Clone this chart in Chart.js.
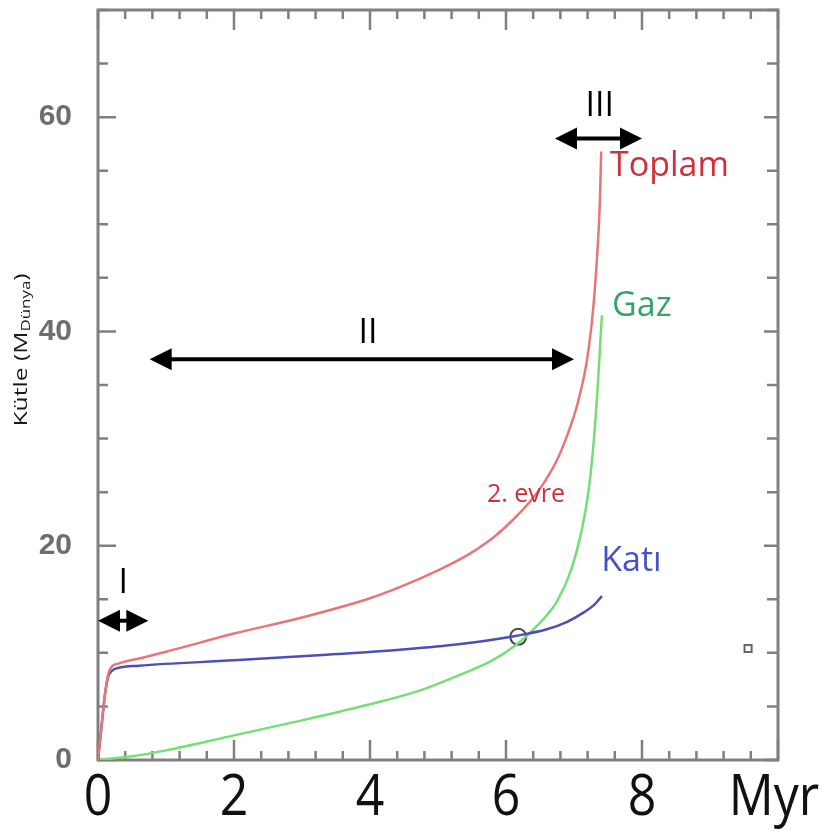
<!DOCTYPE html>
<html>
<head>
<meta charset="utf-8">
<script src="https://cdn.jsdelivr.net/npm/chart.js@4.4.1/dist/chart.umd.min.js"></script>
<style>
  html, body { margin: 0; padding: 0; background: #fff; }
  #wrap { width: 823px; height: 831px; }
</style>
</head>
<body>
<div id="wrap"><canvas id="massChart"></canvas></div>
<script>
// Total mass (Toplam)
const toplamTime = [0, 0.05, 0.1, 0.15, 0.2, 0.3, 0.62, 1.0, 2.0, 3.0, 4.0, 4.5, 5.0, 5.4, 5.8, 6.1, 6.35, 6.55, 6.75, 6.9, 7.05, 7.19, 7.28, 7.34, 7.38, 7.4];
const toplamMass = [0, 3, 6, 8, 8.7, 9.0, 9.5, 10.1, 11.8, 13.3, 15.1, 16.3, 17.7, 19.0, 20.7, 22.4, 24.1, 25.8, 28.0, 30.3, 33.2, 37.3, 42, 47, 52, 56.8];

// Gas (Gaz)
const gazTime = [0, 0.5, 1.0, 2.0, 3.0, 4.0, 4.74, 5.3, 5.8, 6.16, 6.5, 6.75, 6.95, 7.09, 7.2, 7.28, 7.35, 7.41];
const gazMass = [0, 0.35, 0.9, 2.3, 3.7, 5.2, 6.5, 7.9, 9.3, 10.8, 12.8, 14.8, 17.6, 20.8, 24.5, 29, 35, 41.5];

// Solid (Katı)
const katiTime = [0, 0.05, 0.1, 0.15, 0.2, 0.3, 0.6, 2.0, 3.3, 4.44, 5.3, 6.16, 6.6, 6.9, 7.15, 7.3, 7.41];
const katiMass = [0, 3, 6, 7.8, 8.3, 8.6, 8.8, 9.3, 9.8, 10.3, 10.8, 11.6, 12.2, 12.9, 13.8, 14.5, 15.3];

// crossover marker and the small square
const crossPoint = [6.18, 11.5];
const squarePoint = [9.56, 10.4];

const xLabelValues = [0, 2, 4, 6, 8, 10];
const xLabelTexts = ['0', '2', '4', '6', '8', 'Myr'];
const yLabelValues = [0, 20, 40, 60];

// phase arrows: label, start, end, height
const phaseArrows = [
    { label: 'I', from: 0, to: 0.74, y: 13.0, labelX: 0.37, labelY: 16.5, head: 22 },
    { label: 'II', from: 0.76, to: 7.0, y: 37.4, labelX: 3.97, labelY: 39.8, head: 22 },
    { label: 'III', from: 6.72, to: 8.0, y: 58.0, labelX: 7.38, labelY: 61.0, head: 22 }
];

// curve labels
const curveLabels = [
    { text: 'Toplam', x: 7.53, y: 55.4, color: 'rgb(208, 48, 60)', size: 34 },
    { text: 'Gaz', x: 7.56, y: 42.3, color: 'rgb(52, 165, 100)', size: 34 },
    { text: 'Katı', x: 7.4, y: 18.5, color: 'rgb(72, 82, 200)', size: 34 },
    { text: '2. evre', x: 5.72, y: 24.7, color: 'rgb(208, 48, 60)', size: 25 }
];

function toPoints(xs, ys) {
    return xs.map((x, i) => ({ x: x, y: ys[i] }));
}

const isMajor = (v, step) => Math.abs(v / step - Math.round(v / step)) < 1e-6;

const decorPlugin = {
    id: 'decor',
    beforeDatasetsDraw(chart) {
        const { ctx, chartArea: a, scales } = chart;
        ctx.save();
        ctx.strokeStyle = '#808080';
        ctx.lineWidth = 3;
        ctx.strokeRect(a.left, a.top, a.right - a.left, a.bottom - a.top);
        ctx.lineWidth = 2.5;
        ctx.beginPath();
        scales.y.ticks.forEach(t => {
            const py = scales.y.getPixelForValue(t.value);
            const major = isMajor(t.value, 20);
            ctx.moveTo(a.left, py); ctx.lineTo(a.left + (major ? 18 : 10), py);
            ctx.moveTo(a.right, py); ctx.lineTo(a.right - (major ? 14 : 11), py);
        });
        scales.x.ticks.forEach(t => {
            const px = scales.x.getPixelForValue(t.value);
            const major = isMajor(t.value, 2);
            ctx.moveTo(px, a.bottom); ctx.lineTo(px, a.bottom - (major ? 20 : 9));
            ctx.moveTo(px, a.top); ctx.lineTo(px, a.top + (major ? 20 : 9));
        });
        ctx.stroke();
        ctx.restore();
    },
    afterDraw(chart) {
        const { ctx, scales } = chart;
        const x = scales.x, y = scales.y;
        ctx.save();

        // x tick labels
        ctx.fillStyle = '#111';
        ctx.font = '50px "Open Sans"';
        ctx.textAlign = 'center';
        ctx.textBaseline = 'middle';
        xLabelValues.forEach((v, i) => {
            ctx.save();
            ctx.translate(x.getPixelForValue(v) - (i === xLabelValues.length - 1 ? 4 : 0), 799);
            ctx.scale(1, 1.15);
            ctx.fillText(xLabelTexts[i], 0, 0);
            ctx.restore();
        });

        // y axis title with subscript
        ctx.save();
        ctx.translate(27, 350);
        ctx.rotate(-Math.PI / 2);
        ctx.scale(1.3, 1);
        ctx.fillStyle = '#1a1a1a';
        ctx.textAlign = 'left';
        ctx.textBaseline = 'alphabetic';
        const mainFont = '19px "Open Sans"', subFont = '13px "Open Sans"';
        ctx.font = mainFont; const w1 = ctx.measureText('Kütle (M').width;
        const w3 = ctx.measureText(')').width;
        ctx.font = subFont; const w2 = ctx.measureText('Dünya').width;
        let sx = -(w1 + w2 + w3) / 2;
        ctx.font = mainFont; ctx.fillText('Kütle (M', sx, 0);
        ctx.font = subFont; ctx.fillText('Dünya', sx + w1, 3);
        ctx.font = mainFont; ctx.fillText(')', sx + w1 + w2, 0);
        ctx.restore();

        // phase arrows
        ctx.fillStyle = '#000';
        ctx.strokeStyle = '#000';
        ctx.lineWidth = 4;
        phaseArrows.forEach(ar => {
            const x1 = x.getPixelForValue(ar.from), x2 = x.getPixelForValue(ar.to);
            const py = y.getPixelForValue(ar.y);
            const h = ar.head, hw = h * 0.5;
            ctx.beginPath();
            ctx.moveTo(x1 + h - 2, py); ctx.lineTo(x2 - h + 2, py);
            ctx.stroke();
            ctx.beginPath();
            ctx.moveTo(x1, py); ctx.lineTo(x1 + h, py - hw); ctx.lineTo(x1 + h, py + hw); ctx.closePath();
            ctx.moveTo(x2, py); ctx.lineTo(x2 - h, py - hw); ctx.lineTo(x2 - h, py + hw); ctx.closePath();
            ctx.fill();
            ctx.font = '34px "Open Sans"';
            ctx.textAlign = 'center';
            ctx.textBaseline = 'middle';
            ctx.fillText(ar.label, x.getPixelForValue(ar.labelX), y.getPixelForValue(ar.labelY));
        });

        // curve labels
        ctx.textAlign = 'left';
        ctx.textBaseline = 'middle';
        curveLabels.forEach(l => {
            ctx.fillStyle = l.color;
            ctx.font = l.size + 'px "Open Sans"';
            ctx.fillText(l.text, x.getPixelForValue(l.x), y.getPixelForValue(l.y));
        });
        ctx.restore();
    }
};

const data = {
    datasets: [{
        label: 'Toplam',
        data: toPoints(toplamTime, toplamMass),
        borderColor: 'rgb(232, 118, 118)',
        borderWidth: 2.5,
        showLine: true,
        pointRadius: 0,
        cubicInterpolationMode: 'monotone'
    }, {
        label: 'Katı',
        data: toPoints(katiTime, katiMass),
        borderColor: 'rgb(78, 78, 185)',
        borderWidth: 2.5,
        showLine: true,
        pointRadius: 0,
        cubicInterpolationMode: 'monotone'
    }, {
        label: 'Gaz',
        data: toPoints(gazTime, gazMass),
        borderColor: 'rgb(118, 222, 118)',
        borderWidth: 2.5,
        showLine: true,
        pointRadius: 0,
        cubicInterpolationMode: 'monotone'
    }, {
        label: 'kesişim',
        data: [{ x: crossPoint[0], y: crossPoint[1] }],
        pointStyle: 'circle',
        pointRadius: 8,
        borderColor: '#444',
        borderWidth: 2,
        backgroundColor: 'rgba(0,0,0,0)'
    }, {
        label: 'kare',
        data: [{ x: squarePoint[0], y: squarePoint[1] }],
        pointStyle: 'rect',
        pointRadius: 5,
        borderColor: '#666',
        borderWidth: 2,
        backgroundColor: 'rgba(0,0,0,0)'
    }]
};

const config = {
    type: 'scatter',
    data,
    options: {
        responsive: true,
        maintainAspectRatio: false,
        animation: false,
        layout: { padding: { top: 4, right: 45, left: 0, bottom: 0 } },
        plugins: { legend: { display: false }, tooltip: { enabled: false } },
        scales: {
            x: {
                type: 'linear',
                min: 0,
                max: 10,
                grid: { display: false },
                border: { display: false },
                ticks: { display: false, stepSize: 0.4, autoSkip: false },
                afterFit: scale => {
                    scale.height = 71;
                    scale.paddingLeft = 0;
                    scale.paddingRight = 0;
                }
            },
            y: {
                min: 0,
                max: 70,
                grid: { display: false },
                border: { display: false },
                ticks: {
                    stepSize: 5,
                    autoSkip: false,
                    padding: 18,
                    color: '#6e6e6e',
                    font: { family: 'Liberation Sans', size: 30, weight: 'bold' },
                    callback: v => yLabelValues.includes(v) ? String(v) : ''
                },
                afterFit: scale => {
                    scale.width = 98;
                    scale.paddingTop = 0;
                    scale.paddingBottom = 0;
                }
            }
        }
    },
    plugins: [decorPlugin]
};

window.addEventListener('load', function () {
    new Chart(document.getElementById('massChart').getContext('2d'), config);
});
</script>
</body>
</html>
